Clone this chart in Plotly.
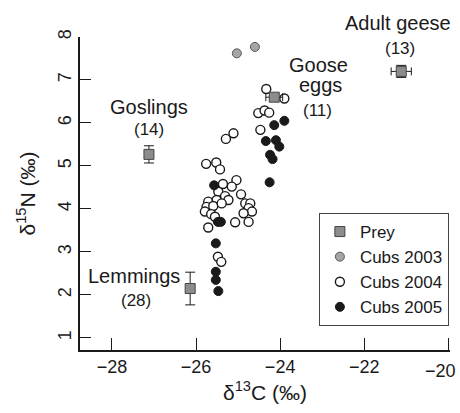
import plotly.graph_objects as go

# ---- data ----
prey_names = ["Goslings", "Lemmings", "Goose", "Adult geese"]
prey_counts = ["(14)", "(28)", "(11)", "(13)"]
prey_x = [-27.12, -26.14, -24.14, -21.12]
prey_y = [5.27, 2.15, 6.60, 7.20]
prey_xerr = [0.0, 0.0, 0.20, 0.24]
prey_yerr = [0.20, 0.38, 0.08, 0.14]

cubs2003_x = [-25.03, -24.60]
cubs2003_y = [7.62, 7.77]

cubs2004_x = [-24.33, -23.90, -24.52, -24.37, -24.26, -24.47, -25.29, -25.11,
              -25.76, -25.52, -25.43, -25.04, -25.36, -25.15, -25.47, -24.93,
              -25.31, -25.23, -25.71, -25.51, -25.75, -25.59, -25.39, -25.79,
              -25.64, -24.83, -24.71, -24.75, -24.67, -24.87, -25.55, -25.07,
              -24.75, -25.71, -25.48, -25.40]
cubs2004_y = [6.79, 6.57, 6.23, 6.29, 6.24, 5.84, 5.63, 5.76,
              5.05, 5.08, 4.92, 4.67, 4.58, 4.52, 4.40, 4.34,
              4.30, 4.21, 4.17, 4.21, 4.05, 4.07, 4.13, 3.94,
              3.88, 4.13, 4.13, 4.02, 3.94, 3.90, 3.82, 3.69,
              3.70, 3.57, 2.89, 2.77]

cubs2005_x = [-24.14, -23.90, -24.34, -24.10, -24.02, -24.24, -24.18, -24.25,
              -25.57, -25.48, -25.41, -25.53, -25.53, -25.53, -25.47]
cubs2005_y = [5.95, 6.05, 5.58, 5.60, 5.45, 5.26, 5.16, 4.62,
              4.55, 3.70, 3.70, 3.20, 2.54, 2.35, 2.09]

x_ticks = [-28, -26, -24, -22, -20]
x_tick_text = ["−28", "−26", "−24", "−22", ""]   # last label drawn separately (edge)
edge_tick_text = "−20"
y_ticks = [1, 2, 3, 4, 5, 6, 7, 8]

Y_RANGE = [0.72, 8.0]
X_RANGE = [-28.76, -19.96]

# label anchor points (data coordinates)
name_pos = [(-27.12, 6.37), (-27.48, 2.44), (-23.09, 7.35), (-21.20, 8.32)]
count_pos = [(-27.12, 5.86), (-27.43, 1.88), (-23.11, 6.30), (-21.16, 7.74)]
extra_label = ("eggs", -23.05, 6.88)

INK = "#1a1a1a"
FONT = "Liberation Sans, Arial, Helvetica, sans-serif"


def to_paper(v):
    return (v - Y_RANGE[0]) / (Y_RANGE[1] - Y_RANGE[0])


fig = go.Figure()

fig.add_trace(go.Scatter(
    x=cubs2003_x, y=cubs2003_y, mode="markers", name="Cubs 2003", legendrank=2,
    marker=dict(symbol="circle", size=9, color="#a6a6a6", line=dict(color="#555555", width=1))))
fig.add_trace(go.Scatter(
    x=cubs2004_x, y=cubs2004_y, mode="markers", name="Cubs 2004", legendrank=3,
    marker=dict(symbol="circle", size=9, color="white", line=dict(color=INK, width=1.4))))
fig.add_trace(go.Scatter(
    x=cubs2005_x, y=cubs2005_y, mode="markers", name="Cubs 2005", legendrank=4,
    marker=dict(symbol="circle", size=9, color=INK, line=dict(color=INK, width=1))))
fig.add_trace(go.Scatter(
    x=prey_x, y=prey_y, mode="markers", name="Prey", legendrank=1,
    marker=dict(symbol="square", size=10, color="#8c8c8c", line=dict(color="#444444", width=1)),
    error_x=dict(type="data", array=prey_xerr, color=INK, thickness=1, width=4),
    error_y=dict(type="data", array=prey_yerr, color=INK, thickness=1, width=5)))

labels = [(nm, nx, ny, 20) for nm, (nx, ny) in zip(prey_names, name_pos)]
labels += [(ct, cx, cy, 17) for ct, (cx, cy) in zip(prey_counts, count_pos)]
labels.append((extra_label[0], extra_label[1], extra_label[2], 20))

for txt, lx, ly, fs in labels:
    fig.add_annotation(x=lx, y=to_paper(ly), text=txt, showarrow=False,
                       xref="x", yref="paper", xanchor="center", yanchor="middle",
                       font=dict(family=FONT, size=fs, color=INK))

# right-most tick label, nudged inward so it stays inside the page
fig.add_annotation(x=x_ticks[-1], y=0, text=edge_tick_text, showarrow=False,
                   xref="x", yref="paper", xanchor="right", yanchor="top",
                   xshift=10, yshift=-9, font=dict(family=FONT, size=18, color=INK))

fig.update_layout(
    width=460, height=413,
    margin=dict(l=80, r=10, t=37, b=63),
    paper_bgcolor="white", plot_bgcolor="white",
    font=dict(family=FONT, color=INK),
    showlegend=True,
    legend=dict(x=0.997, xanchor="right", y=0.4377, yanchor="top",
                bordercolor="#444444", borderwidth=1, bgcolor="white",
                font=dict(family=FONT, size=17, color=INK),
                itemwidth=30, tracegroupgap=0),
    xaxis=dict(range=X_RANGE, tickvals=x_ticks, ticktext=x_tick_text, ticks="inside", ticklen=12,
               tickwidth=1.3, tickcolor=INK, showline=True, linecolor=INK, linewidth=1.5,
               showgrid=False, zeroline=False, tickfont=dict(size=18, color=INK),
               automargin=False,
               title=dict(text="δ<sup>13</sup>C (‰)", font=dict(size=21, color=INK), standoff=9)),
    yaxis=dict(range=Y_RANGE, tickvals=y_ticks, ticks="inside", ticklen=11,
               tickwidth=1.3, tickcolor=INK, showline=True, linecolor=INK, linewidth=1.5,
               showgrid=False, zeroline=False, tickangle=-90, tickfont=dict(size=18, color=INK),
               automargin=False, ticklabeloverflow="allow",
               title=dict(text="δ<sup>15</sup>N (‰)", font=dict(size=21, color=INK), standoff=14)),
)

fig.write_html("out.html")
